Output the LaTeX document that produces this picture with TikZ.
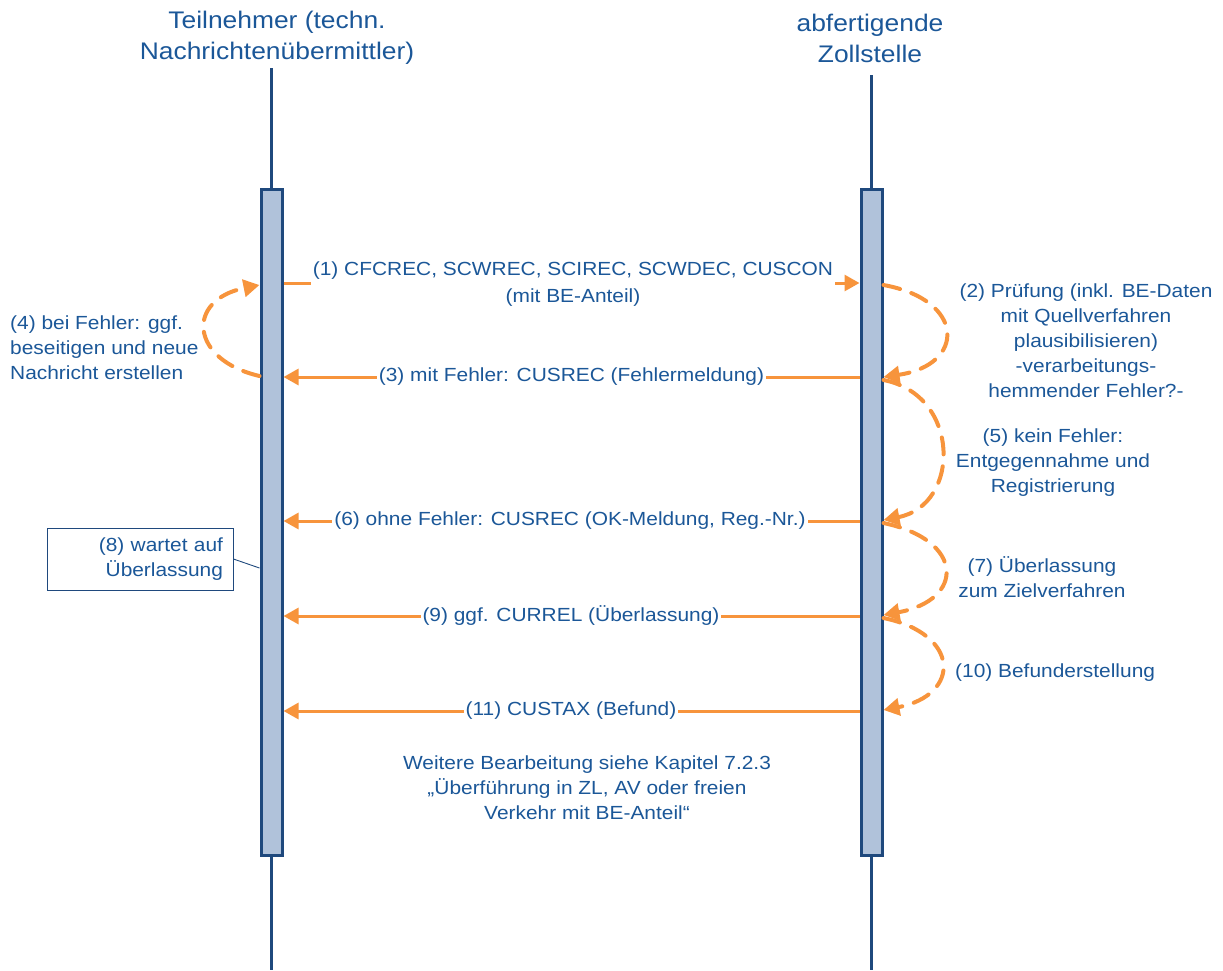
\documentclass[tikz,border=0pt]{standalone}
\usepackage{fontspec}
\setmainfont[FakeStretch=1.1]{Liberation Sans}
\usetikzlibrary{arrows.meta}
\definecolor{tblue}{RGB}{27,87,152}
\definecolor{navy}{RGB}{31,73,125}
\definecolor{barfill}{RGB}{176,194,218}
\definecolor{orng}{RGB}{247,148,60}
\begin{document}
\begin{tikzpicture}[x=1pt,y=-1pt,
  lifeline/.style={draw=navy, line width=2.7pt},
  barbox/.style={draw=navy, fill=barfill, line width=3pt, minimum width=21pt, minimum height=666pt, inner sep=0pt},
  hdr/.style={text=tblue, font=\fontsize{24}{31}\selectfont, align=center, inner sep=0pt},
  msglabel/.style={text=tblue, font=\fontsize{19}{27}\selectfont, fill=white, inner xsep=2pt, inner ysep=0pt, align=center},
  note/.style={text=tblue, font=\fontsize{19}{25}\selectfont, inner sep=0pt},
  msgarrow/.style={draw=orng, line width=3pt, -{Triangle[length=15pt,width=16pt]}},
  looparrow/.style={draw=orng, line width=4pt, line cap=round, dash pattern=on 17pt off 12pt, -{Triangle[length=16pt,width=17pt]}},
  notebox/.style={draw=navy, line width=0.9pt, text=tblue, font=\fontsize{19}{25}\selectfont, align=right, text width=166pt, minimum height=62pt, inner xsep=10pt}
]
\useasboundingbox (0,0) rectangle (1223,970);

% headers
\node[hdr] (hdrL) at (277,38) {Teilnehmer (techn.\\Nachrichtenübermittler)};
\node[hdr] (hdrR) at (870,38) {abfertigende\\Zollstelle};

% bars
\node[barbox] (barL) at (271.5,522.5) {};
\node[barbox] (barR) at (871.5,522.5) {};

% lifelines
\draw[lifeline] (barL.center |- 0,68) -- (barL.north);
\draw[lifeline] (barL.south) -- (barL.center |- 0,970);
\draw[lifeline] (barR.center |- 0,75) -- (barR.north);
\draw[lifeline] (barR.south) -- (barR.center |- 0,970);

% messages
\draw[msgarrow] (barL.east |- 0,283) -- (barR.west |- 0,283);
\node[msglabel] (l1) at (573,284) {(1) CFCREC, SCWREC, SCIREC, SCWDEC, CUSCON\\(mit BE-Anteil)};

\draw[msgarrow] (barR.west |- 0,377) -- (barL.east |- 0,377);
\node[msglabel] (l3) at (571.5,377) {(3) mit Fehler: CUSREC (Fehlermeldung)};

\draw[msgarrow] (barR.west |- 0,521) -- (barL.east |- 0,521);
\node[msglabel] (l6) at (570,521) {(6) ohne Fehler: CUSREC (OK-Meldung, Reg.-Nr.)};

\draw[msgarrow] (barR.west |- 0,616) -- (barL.east |- 0,616);
\node[msglabel] (l9) at (571,616) {(9) ggf. CURREL (Überlassung)};

\draw[msgarrow] (barR.west |- 0,711) -- (barL.east |- 0,711);
\node[msglabel] (l11) at (571,711) {(11) CUSTAX (Befund)};

% loops
\draw[looparrow] (barR.east |- 0,285) .. controls (966,300) and (966,365) .. (barR.east |- 0,377);
\draw[looparrow] (barR.east |- 0,380) .. controls (961,395) and (961,505) .. (barR.east |- 0,520);
\draw[looparrow] (barR.east |- 0,523) .. controls (965,540) and (965,600) .. (barR.east |- 0,615);
\draw[looparrow] (barR.east |- 0,618) .. controls (961,634) and (961,695) .. (barR.east |- 0,710);
\draw[looparrow] (barL.west |- 0,376) .. controls (190,360) and (185,300) .. (barL.west |- 0,285);

% notes
\node[note, anchor=west, align=left] (n4) at (10,348) {(4) bei Fehler: ggf.\\beseitigen und neue\\Nachricht erstellen};
\node[note, align=center] (n2) at (1086,341) {(2) Prüfung (inkl. BE-Daten\\mit Quellverfahren\\plausibilisieren)\\-verarbeitungs-\\hemmender Fehler?-};
\node[note, align=center] (n5) at (1053,463) {(5) kein Fehler:\\Entgegennahme und\\Registrierung};
\node[note, align=center] (n7) at (1042,577) {(7) Überlassung\\zum Zielverfahren};
\node[note, anchor=west] (n10) at (955,673) {(10) Befunderstellung};
\node[note, align=center] (nb) at (587,788) {Weitere Bearbeitung siehe Kapitel 7.2.3\\„Überführung in ZL, AV oder freien\\Verkehr mit BE-Anteil“};

% box 8
\node[notebox] (box8) at (140,559) {(8) wartet auf\\Überlassung};
\draw[draw=navy, line width=0.9pt] (box8.east) -- (barL.west |- 0,568);
\end{tikzpicture}
\end{document}
